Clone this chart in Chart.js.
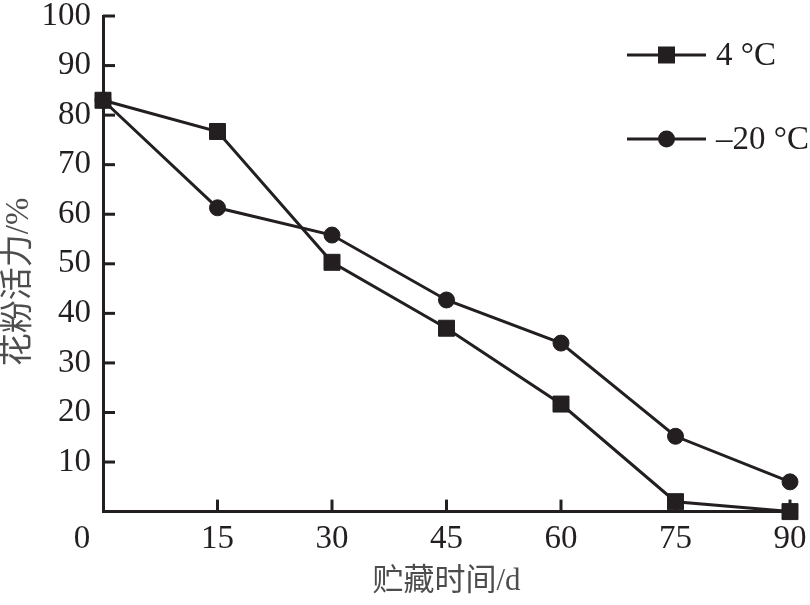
<!DOCTYPE html>
<html>
<head>
<meta charset="utf-8">
<script src="https://cdn.jsdelivr.net/npm/chart.js@4/dist/chart.umd.min.js"></script>
<style>
  html, body { margin: 0; padding: 0; background: #fff; }
  #wrap { width: 810px; height: 605px; }
</style>
</head>
<body>
<div id="wrap"><canvas id="c" width="810" height="605"></canvas></div>
<script>
// ---- data ----
const days = [0, 15, 30, 45, 60, 75, 90];
const viability4C = [83.0, 76.7, 50.3, 37.0, 21.7, 2.0, 0.0];
const viabilityMinus20C = [83.0, 61.3, 55.8, 42.7, 34.0, 15.2, 6.0];
const seriesLabels = ['4 °C', '–20 °C'];
const xTicks = [0, 15, 30, 45, 60, 75, 90];
const yTicks = [10, 20, 30, 40, 50, 60, 70, 80, 90, 100];
const xTitle = '贮藏时间/d';
const yTitle = '花粉活力/%';

const INK = '#231f20';
const GRAY = '#4d4d4d';
const SERIF = '"Liberation Serif", "Noto Sans CJK SC", serif';

const toPoints = (xs, ys) => xs.map((x, i) => ({ x: x, y: ys[i] }));

const decorPlugin = {
  id: 'decor',
  afterDraw(chart) {
    const ctx = chart.ctx;
    const xs = chart.scales.x, ys = chart.scales.y;
    const ca = chart.chartArea;
    ctx.save();
    // inward ticks
    ctx.strokeStyle = INK;
    ctx.lineWidth = 3;
    ctx.lineCap = 'butt';
    yTicks.forEach(v => {
      const py = ys.getPixelForValue(v);
      ctx.beginPath();
      ctx.moveTo(ca.left, py);
      ctx.lineTo(ca.left + 12, py);
      ctx.stroke();
    });
    xTicks.forEach(v => {
      if (v === 0) return;
      const px = xs.getPixelForValue(v);
      ctx.beginPath();
      ctx.moveTo(px, ca.bottom);
      ctx.lineTo(px, ca.bottom - 12);
      ctx.stroke();
    });
    // origin label "0"
    ctx.fillStyle = INK;
    ctx.font = '33px ' + SERIF;
    ctx.textAlign = 'center';
    ctx.textBaseline = 'middle';
    ctx.fillText('0', xs.getPixelForValue(0) - 21, ca.bottom + 11 + 16.5);

    // y-axis title (rotated)
    ctx.save();
    ctx.translate(19, (ys.top + ys.bottom) / 2 + 18);
    ctx.rotate(-Math.PI / 2);
    ctx.fillStyle = GRAY;
    ctx.font = '33px ' + SERIF;
    ctx.textAlign = 'center';
    ctx.textBaseline = 'middle';
    ctx.fillText(yTitle, 0, 0);
    ctx.restore();

    // legend
    chart.data.datasets.forEach((ds, i) => {
      const y = ca.top + 39 + i * 84;
      const x0 = ca.right - 163, x1 = ca.right - 84, xm = (x0 + x1) / 2;
      ctx.strokeStyle = ds.borderColor;
      ctx.lineWidth = ds.borderWidth;
      ctx.beginPath();
      ctx.moveTo(x0, y);
      ctx.lineTo(x1, y);
      ctx.stroke();
      ctx.fillStyle = ds.pointBackgroundColor;
      ctx.beginPath();
      if (ds.pointStyle === 'rect') {
        ctx.rect(xm - 8.5, y - 8.5, 17, 17);
      } else {
        ctx.arc(xm, y, 8.5, 0, Math.PI * 2);
      }
      ctx.fill();
      ctx.fillStyle = INK;
      ctx.textAlign = 'left';
      ctx.textBaseline = 'middle';
      ctx.font = '33px ' + SERIF;
      ctx.fillText(ds.label, ca.right - 74, y + 1);
    });
    ctx.restore();
  }
};

new Chart(document.getElementById('c'), {
  type: 'line',
  data: {
    datasets: [
      {
        label: seriesLabels[0],
        data: toPoints(days, viability4C),
        borderColor: INK,
        backgroundColor: INK,
        borderWidth: 3,
        pointStyle: 'rect',
        pointRadius: 11.3,
        pointBorderWidth: 1,
        pointBackgroundColor: INK,
        pointBorderColor: INK,
        tension: 0,
        clip: false
      },
      {
        label: seriesLabels[1],
        data: toPoints(days, viabilityMinus20C),
        borderColor: INK,
        backgroundColor: INK,
        borderWidth: 3,
        pointStyle: 'circle',
        pointRadius: 8,
        pointBorderWidth: 1,
        pointBackgroundColor: INK,
        pointBorderColor: INK,
        tension: 0,
        clip: false
      }
    ]
  },
  options: {
    responsive: false,
    animation: false,
    events: [],
    layout: { padding: { top: 16, right: 20, left: 0, bottom: 0 } },
    plugins: {
      legend: { display: false },
      tooltip: { enabled: false }
    },
    scales: {
      x: {
        type: 'linear',
        min: 0, max: 90,
        afterBuildTicks: (s) => { s.ticks = xTicks.map(v => ({ value: v })); },
        afterFit: (s) => { s.height = 93.4; s.paddingLeft = 0; s.paddingRight = 0; },
        grid: { display: false, drawTicks: false },
        border: { display: true, color: INK, width: 3 },
        ticks: {
          padding: 11,
          maxRotation: 0,
          color: INK,
          font: { family: SERIF, size: 33, lineHeight: 1 },
          callback: (v) => (v === 0 ? '' : String(v))
        },
        title: {
          display: true,
          text: xTitle,
          color: GRAY,
          font: { family: SERIF, size: 31, lineHeight: 1.2 },
          padding: { top: 0, bottom: 5 }
        }
      },
      y: {
        type: 'linear',
        min: 0, max: 100,
        afterBuildTicks: (s) => { s.ticks = yTicks.map(v => ({ value: v })); },
        afterFit: (s) => { s.width = 103; s.paddingTop = 0; s.paddingBottom = 0; },
        grid: { display: false, drawTicks: false },
        border: { display: true, color: INK, width: 3 },
        ticks: {
          padding: 12,
          color: INK,
          font: { family: SERIF, size: 33, lineHeight: 1 }
        },
        title: { display: false }
      }
    }
  },
  plugins: [decorPlugin]
});
</script>
</body>
</html>
